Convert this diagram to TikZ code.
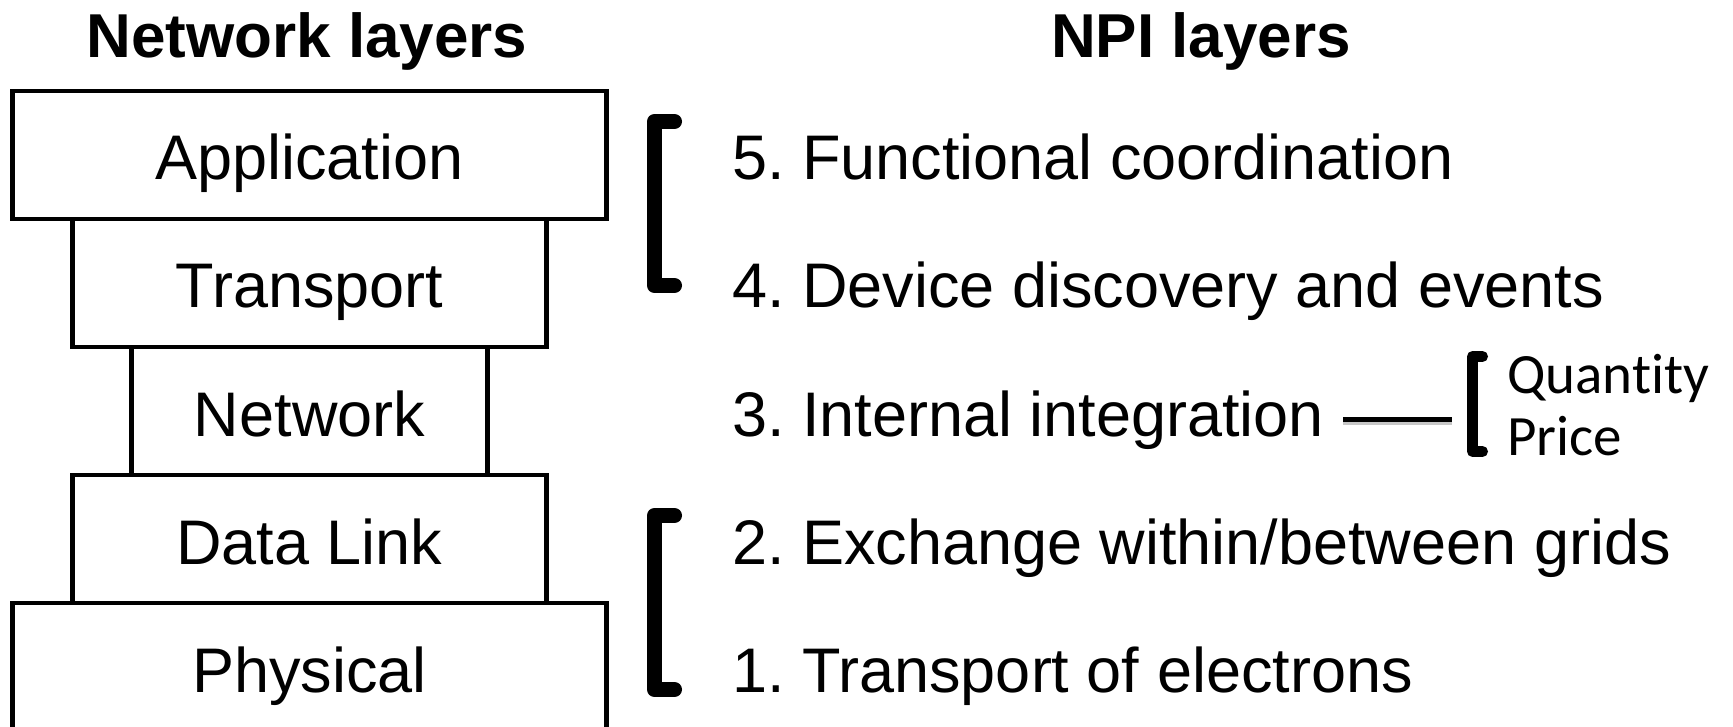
\documentclass[tikz,border=0pt]{standalone}
\usepackage{fontspec}
\setmainfont{Liberation Sans}
\newfontfamily\calib[Ligatures={NoCommon}]{Carlito}
\begin{document}
\frenchspacing
\begin{tikzpicture}[x=1pt,y=-1pt,
  layer/.style={draw,line width=4.5pt,minimum height=128pt,inner sep=0pt,text height=50pt,text depth=0pt,font=\fontsize{63}{76}\selectfont},
  title/.style={anchor=base,inner sep=0pt,font=\bfseries\fontsize{62}{74}\selectfont},
  npi/.style={anchor=base west,inner sep=0pt,font=\fontsize{63}{76}\selectfont},
  brk/.style={line width=15pt,line cap=round,line join=round},
  sbrk/.style={line width=11pt,line cap=round,line join=round},
  link/.style={line width=5pt},
  shade/.style={line width=6pt,draw=black!22},
  small/.style={anchor=base west,inner sep=0pt,font=\calib\fontsize{57}{68}\selectfont}]
\useasboundingbox (0,0) rectangle (1733,727);
\clip (0,0) rectangle (1733,727);
% titles
\node[title] (tn) at (307,58) {Network layers};
\node[title] (tp) at (1201,58) {NPI layers};
% network layer stack
\node[layer,minimum width=594pt] (app) at (309.5,155) {Application};
\node[layer,minimum width=474pt] (tra) at (309.5,283) {Transport};
\node[layer,minimum width=356pt] (net) at (309.5,411) {Network};
\node[layer,minimum width=474pt] (dl)  at (309.5,539) {Data Link};
\node[layer,minimum width=594pt] (phy) at (309.5,667) {Physical};
% NPI layers
\node[npi] (n5) at (732,180) {5. Functional coordination};
\node[npi] (n4) at (732,308) {4. Device discovery and events};
\node[npi] (n3) at (732,436) {3. Internal integration};
\node[npi] (n2) at (732,564) {2. Exchange within/between grids};
\node[npi] (n1) at (732,692) {1. Transport of electrons};
% brackets
\draw[brk] (674.5,121.5) -- (654.5,121.5) -- (654.5,285.5) -- (674.5,285.5);
\draw[brk] (674.5,515.5) -- (654.5,515.5) -- (654.5,689.5) -- (674.5,689.5);
\draw[sbrk] (1482.5,356.5) -- (1472.5,356.5) -- (1472.5,451.5) -- (1482.5,451.5);
% link from internal integration
\coordinate (la) at (1343,419);
\coordinate (lb) at (1452,419);
\draw[shade] ([yshift=-3pt]la) -- ([yshift=-3pt]lb);
\draw[link] (la) -- (lb);
% quantity / price
\node[small] (q) at (1507,393) {Quant\kern0pt ity};
\node[small] (p) at (1507,455) {Price};
\end{tikzpicture}
\end{document}
